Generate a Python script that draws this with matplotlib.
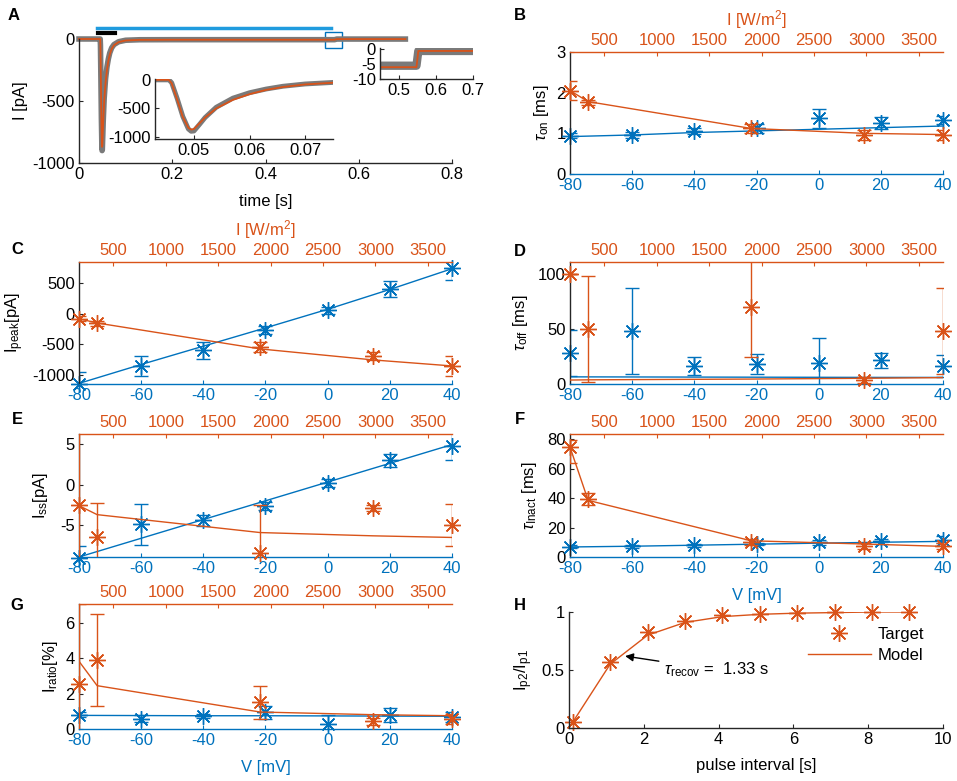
import numpy as np
import matplotlib.pyplot as plt
from matplotlib.patches import Rectangle

plt.rcParams['font.family'] = ['Liberation Sans', 'DejaVu Sans']
plt.rcParams['mathtext.fontset'] = 'custom'
plt.rcParams['mathtext.rm'] = 'Liberation Sans'
plt.rcParams['mathtext.it'] = 'Liberation Sans:italic'
plt.rcParams['font.size'] = 12
plt.rcParams['axes.unicode_minus'] = False
plt.rcParams['xtick.direction'] = 'in'
plt.rcParams['ytick.direction'] = 'in'
plt.rcParams['xtick.major.size'] = 3
plt.rcParams['ytick.major.size'] = 3
plt.rcParams['axes.linewidth'] = 1.0

BLUE = '#0072BD'
ORANGE = '#D95319'
GRAY = '#7a7a7a'
DARK = '#262626'
AST = (8, 2, 0)

# ---- panel A: current trace (key points)
trace_t = [0.0, 0.040, 0.0455, 0.046, 0.047, 0.048, 0.049, 0.0495, 0.050, 0.051,
           0.052, 0.054, 0.057, 0.060, 0.063, 0.066, 0.070, 0.075, 0.085, 0.10,
           0.13, 0.20, 0.548, 0.553, 0.56, 0.70]
trace_data = [0, 0, 0, -50, -330, -640, -860, -900, -895, -780,
              -660, -480, -320, -225, -160, -112, -72, -45, -22, -10,
              -6, -5.5, -5.5, -0.5, -0.5, -0.5]
trace_model = [0, 0, 0, -60, -350, -650, -840, -870, -860, -760,
               -660, -500, -350, -250, -175, -125, -80, -50, -25, -12,
               -7, -6, -6, -0.5, -0.5, -0.5]

# ---- panels B-G: voltage (blue) and irradiance (orange) series
V = [-80, -60, -40, -20, 0, 20, 40]
I_irr = [172, 345, 1900, 2975, 3730]
I_LIM = (172, 3730)

tau_on_v = [0.94, 0.96, 1.06, 1.12, 1.37, 1.26, 1.33]
tau_on_v_err = [0.06, 0.08, 0.08, 0.1, 0.23, 0.15, 0.1]
tau_on_v_model = [0.92, 0.96, 1.02, 1.06, 1.10, 1.14, 1.18]
tau_on_i = [2.05, 1.76, 1.12, 0.96, 0.96]
tau_on_i_err = [0.24, 0.07, 0.1, 0.12, 0.12]
tau_on_i_model = [2.05, 1.78, 1.12, 1.0, 0.97]

ipeak_v = [-1150, -850, -600, -263, 55, 411, 750]
ipeak_v_err = [200, 165, 135, 60, 50, 135, 190]
ipeak_v_model = [-1140, -830, -530, -230, 75, 400, 740]
ipeak_i = [-82, -153, -548, -690, -854]
ipeak_i_err = [40, 40, 80, 60, 165]
ipeak_i_model = [-80, -150, -575, -755, -854]

toff_v = [28, 48, 16.5, 18, 19.5, 21.6, 16.5]
toff_v_err = [21, 39, 8, 9, 22, 7, 10]
toff_v_model = [6.5, 6.4, 6.3, 6.2, 6.1, 6.0, 6.0]
toff_i = [100, 50, 70, 3.6, 48]
toff_i_err = [0, 48.5, 45, 3, 39]
toff_i_model = [3.6, 3.8, 4.5, 5.2, 5.8]

iss_v = [-9.0, -4.9, -4.4, -2.6, 0.2, 3.0, 4.75]
iss_v_err = [1.5, 2.5, 0.7, 0.5, 0.5, 0.8, 1.8]
iss_v_model = [-8.9, -6.6, -4.3, -2.0, 0.3, 2.6, 4.9]
iss_i = [-2.5, -6.5, -8.4, -2.9, -5.0]
iss_i_err = [10, 4.2, 5.9, 0.4, 2.6]
iss_i_model = [-2.6, -3.7, -5.9, -6.3, -6.5]

tinact_v = [6.8, 7.2, 7.9, 8.8, 9.9, 10.6, 11.7]
tinact_v_err = [1, 1, 1, 1, 1.5, 1.5, 2.5]
tinact_v_model = [6.8, 7.3, 8.0, 8.7, 9.4, 10.0, 10.6]
tinact_i = [74.5, 39.5, 9.9, 7.7, 7.7]
tinact_i_err = [[11, 4, 2, 2, 2], [5, 4, 2, 2, 2]]
tinact_i_model = [74.5, 38.4, 11, 8.8, 7.2]

iratio_v = [0.81, 0.57, 0.75, 0.94, 0.3, 0.81, 0.68]
iratio_v_err = [0.15, 0.2, 0.1, 0.35, 0.5, 0.4, 0.3]
iratio_v_model = [0.77, 0.76, 0.75, 0.75, 0.74, 0.73, 0.72]
iratio_i = [2.57, 3.92, 1.5, 0.43, 0.57]
iratio_i_err = [4.5, 2.6, 0.95, 0.2, 0.3]
iratio_i_model = [3.83, 2.45, 0.96, 0.81, 0.75]

# ---- panel H: recovery
interval = [0.1, 1.1, 2.1, 3.1, 4.1, 5.1, 6.1, 7.1, 8.1, 9.1]
ratio_target = [0.05, 0.57, 0.83, 0.92, 0.97, 0.985, 0.995, 1.0, 1.0, 1.0]
ratio_model = [0.05, 0.55, 0.80, 0.91, 0.96, 0.98, 0.99, 0.995, 1.0, 1.0]

W, H = 957, 781
fig = plt.figure(figsize=(W / 100, H / 100), dpi=100)


def add_ax(l, t, r, b):
    return fig.add_axes([l / W, 1 - b / H, (r - l) / W, (b - t) / H])


def plain(ax):
    ax.spines['top'].set_visible(False)
    ax.spines['right'].set_visible(False)
    for s in ['left', 'bottom']:
        ax.spines[s].set_color(DARK)
    ax.tick_params(colors=DARK, labelcolor='k', pad=3)
    ax.set_facecolor('none')


# panel A
axA = add_ax(79, 39, 452, 163)
axA.plot(trace_t, trace_data, color=GRAY, lw=4, clip_on=False)
axA.plot(trace_t, trace_model, color=ORANGE, lw=1.3, clip_on=False)
axA.set_xlim(0, 0.8)
axA.set_ylim(-1000, 0)
axA.set_xticks([0, 0.2, 0.4, 0.6, 0.8])
axA.set_xticklabels(['0', '0.2', '0.4', '0.6', '0.8'])
axA.set_yticks([-1000, -500, 0])
plain(axA)
axA.set_xlabel('time [s]')
axA.xaxis.set_label_coords(0.5, -0.25)
axA.set_ylabel('I [pA]')
axA.yaxis.set_label_coords(-0.138, 0.5)
axA.plot([0.038, 0.54], [89, 89], color='#1F9BDE', lw=2.5, clip_on=False)
axA.plot([0.041, 0.077], [48, 48], color='k', lw=3, clip_on=False)
axA.add_patch(Rectangle((0.528, -73), 0.036, 129, fill=False, ec=BLUE, lw=1, clip_on=False))

ins1 = add_ax(155, 79, 333, 139)
ins1.plot(trace_t, trace_data, color=GRAY, lw=3.5)
ins1.plot(trace_t, trace_model, color=ORANGE, lw=1.3)
ins1.set_xlim(0.043, 0.075)
ins1.set_ylim(-1035, 15)
ins1.set_xticks([0.05, 0.06, 0.07])
ins1.set_xticklabels(['0.05', '0.06', '0.07'])
ins1.set_yticks([-1000, -500, 0])
plain(ins1)

ins2 = add_ax(380, 48, 473, 79)
ins2.plot(trace_t, trace_data, color=GRAY, lw=6)
ins2.plot(trace_t, trace_model, color=ORANGE, lw=1.3)
ins2.set_xlim(0.45, 0.7)
ins2.set_ylim(-10, 0.5)
ins2.set_xticks([0.5, 0.6, 0.7])
ins2.set_xticklabels(['0.5', '0.6', '0.7'])
ins2.set_yticks([-10, -5, 0])
plain(ins2)


def vi_panel(box, v_y, v_err, v_mod, i_y, i_err, i_mod, ylim, yticks, ylabel, ylab_x,
             top_label=False, bottom_label=False):
    ax = add_ax(*box)
    ax.errorbar(V, v_y, yerr=v_err, fmt='none', ecolor=BLUE, capsize=4.7, elinewidth=1, capthick=1)
    ax.plot(V, v_mod, color=BLUE, lw=1)
    ax.plot(V, v_y, ls='none', marker=AST, ms=12, mew=1, color=BLUE, clip_on=False)
    ax.set_xlim(-80, 40)
    ax.set_ylim(ylim)
    ax.set_yticks(yticks)
    ax.set_xticks(V)
    ax.spines['top'].set_visible(False)
    ax.spines['right'].set_visible(False)
    ax.spines['bottom'].set_color(BLUE)
    ax.spines['left'].set_color(DARK)
    ax.tick_params(axis='x', colors=BLUE, pad=3)
    ax.tick_params(axis='y', colors=DARK, labelcolor='k', pad=3)
    ax.set_ylabel(ylabel)
    ax.yaxis.set_label_coords(ylab_x, 0.5)
    if bottom_label:
        ax.set_xlabel('V [mV]', color=BLUE)
        ax.xaxis.set_label_coords(0.5, -0.25)

    axt = ax.twiny()
    axt.errorbar(I_irr, i_y, yerr=i_err, fmt='none', ecolor=ORANGE, capsize=4.7, elinewidth=1, capthick=1)
    axt.plot(I_irr, i_mod, color=ORANGE, lw=1)
    axt.plot(I_irr, i_y, ls='none', marker=AST, ms=12, mew=1, color=ORANGE, clip_on=False)
    axt.set_xlim(I_LIM)
    axt.set_ylim(ylim)
    axt.set_xticks([500, 1000, 1500, 2000, 2500, 3000, 3500])
    for s in ['left', 'right', 'bottom']:
        axt.spines[s].set_visible(False)
    axt.spines['top'].set_color(ORANGE)
    axt.tick_params(axis='x', colors=ORANGE, pad=3)
    axt.set_facecolor('none')
    if top_label:
        axt.set_xlabel('I [W/m$^2$]', color=ORANGE)
        axt.xaxis.set_label_coords(0.5, 1.22)
    return ax, axt


vi_panel((570, 52, 943, 174), tau_on_v, tau_on_v_err, tau_on_v_model,
         tau_on_i, tau_on_i_err, tau_on_i_model, (0, 3), [0, 1, 2, 3],
         r'$\tau_{\mathrm{on}}$ [ms]', -0.052, top_label=True)
vi_panel((79, 262, 452, 384), ipeak_v, ipeak_v_err, ipeak_v_model,
         ipeak_i, ipeak_i_err, ipeak_i_model, (-1150, 850), [-1000, -500, 0, 500],
         r'I$_{\mathrm{peak}}$[pA]', -0.142, top_label=True)
vi_panel((570, 262, 943, 384), toff_v, toff_v_err, toff_v_model,
         toff_i, toff_i_err, toff_i_model, (0, 111), [0, 50, 100],
         r'$\tau_{\mathrm{off}}$ [ms]', -0.108)
vi_panel((79, 434, 452, 557), iss_v, iss_v_err, iss_v_model,
         iss_i, iss_i_err, iss_i_model, (-8.9, 6.2), [-5, 0, 5],
         r'I$_{\mathrm{ss}}$[pA]', -0.078)
vi_panel((570, 434, 943, 557), tinact_v, tinact_v_err, tinact_v_model,
         tinact_i, tinact_i_err, tinact_i_model, (0, 83.4), [0, 20, 40, 60, 80],
         r'$\tau_{\mathrm{Inact}}$ [ms]', -0.083, bottom_label=True)
vi_panel((79, 604, 452, 729), iratio_v, iratio_v_err, iratio_v_model,
         iratio_i, iratio_i_err, iratio_i_model, (0, 7.07), [0, 2, 4, 6],
         r'I$_{\mathrm{ratio}}$[%]', -0.052, bottom_label=True)

# panel H
axH = add_ax(569, 612, 943, 728)
axH.plot(interval, ratio_model, color=ORANGE, lw=1, label='Model')
axH.plot(interval, ratio_target, ls='none', marker=AST, ms=12, mew=1, color=ORANGE,
         clip_on=False, label='Target')
axH.set_xlim(0, 10)
axH.set_ylim(0, 1)
axH.set_xticks([0, 2, 4, 6, 8, 10])
axH.set_yticks([0, 0.5, 1])
axH.set_yticklabels(['0', '0.5', '1'])
plain(axH)
axH.set_xlabel('pulse interval [s]')
axH.xaxis.set_label_coords(0.5, -0.26)
axH.set_ylabel(r'I$_{\mathrm{p2}}$/I$_{\mathrm{p1}}$')
axH.yaxis.set_label_coords(-0.09, 0.5)
h, l = axH.get_legend_handles_labels()
axH.legend([h[1], h[0]], [l[1], l[0]], loc='upper left', bbox_to_anchor=(0.62, 0.93),
           frameon=False, handlelength=3.8, handletextpad=0.4, borderaxespad=0,
           labelspacing=0.35, fontsize=12)
axH.annotate(r'$\tau_{\mathrm{recov}}$ =  1.33 s', xy=(1.5, 0.62), xytext=(2.55, 0.5),
             va='center', ha='left', fontsize=12,
             arrowprops=dict(arrowstyle='-|>', color='k', lw=1, shrinkA=2, shrinkB=0))

for lab, x, y in [('A', 14, 15), ('B', 520, 16), ('C', 17, 250), ('D', 520, 252),
                  ('E', 17, 420), ('F', 520, 420), ('G', 17, 605), ('H', 520, 605)]:
    fig.text(x / W, 1 - y / H, lab, weight='bold', fontsize=12, ha='center', va='center')

fig.savefig('out.png', dpi=100)
